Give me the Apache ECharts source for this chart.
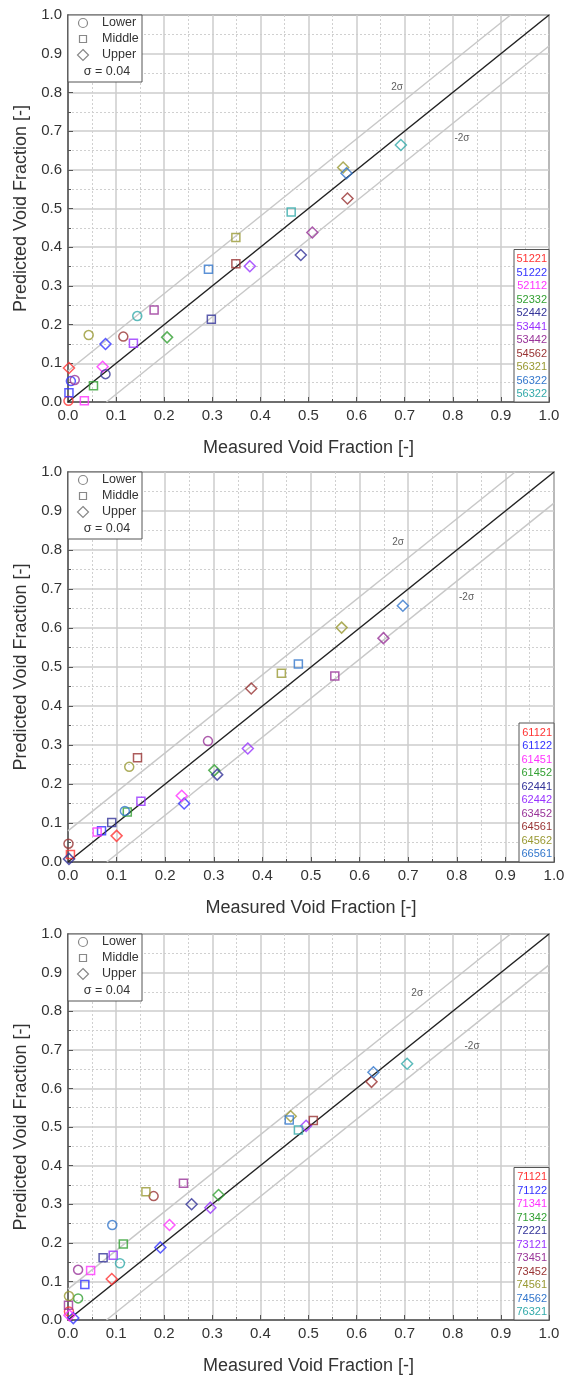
<!DOCTYPE html>
<html>
<head>
<meta charset="utf-8">
<script src="https://cdn.jsdelivr.net/npm/echarts@6/dist/echarts.min.js"></script>
<style>
html,body{margin:0;padding:0;background:#fff;}
#chart{width:569px;height:1382px;}
</style>
</head>
<body>
<div id="chart"></div>
<script>
// ---------- data ----------
const SERIES_COLORS = ['#ff3333','#3333ff','#ff33ff','#33a033','#333399','#9933ff','#993399','#993333','#999933','#3377cc','#33aaaa'];
const LEVELS = ['Lower','Middle','Upper'];
const SIGMA = 0.04;

const names1 = ['51221','51222','52112','52332','52442','53441','53442','54562','56321','56322','56322'];
const names2 = ['61121','61122','61451','61452','62441','62442','63452','64561','64562','66561'];
const names3 = ['71121','71122','71341','71342','72221','73121','73451','73452','74561','74562','76321'];

// [series index, level (0 Lower,1 Middle,2 Upper), measured, predicted]
const points1 = [
  [0,2,0.002,0.088],[0,0,0.001,0.003],[1,1,0.002,0.024],[1,0,0.006,0.054],[6,0,0.014,0.057],
  [2,1,0.034,0.003],[3,1,0.053,0.042],[4,0,0.078,0.072],[2,2,0.072,0.091],[1,2,0.078,0.150],
  [8,0,0.043,0.173],[7,0,0.115,0.169],[5,1,0.136,0.152],[10,0,0.144,0.222],[6,1,0.179,0.238],
  [3,2,0.206,0.167],[9,1,0.292,0.343],[4,1,0.298,0.214],[8,1,0.349,0.425],[7,1,0.349,0.357],
  [5,2,0.378,0.351],[10,1,0.464,0.491],[4,2,0.484,0.380],[6,2,0.508,0.438],[8,2,0.572,0.606],
  [9,2,0.579,0.591],[7,2,0.581,0.526],[10,2,0.692,0.664]
];
const points2 = [
  [7,0,0.001,0.047],[0,1,0.005,0.019],[4,2,0.002,0.008],[2,1,0.060,0.077],[1,1,0.069,0.080],
  [4,1,0.090,0.101],[0,2,0.100,0.067],[9,0,0.117,0.131],[3,1,0.122,0.128],[8,0,0.126,0.244],
  [7,1,0.143,0.267],[5,1,0.150,0.156],[2,2,0.234,0.170],[1,2,0.239,0.150],[6,0,0.288,0.310],
  [3,2,0.301,0.235],[4,2,0.307,0.224],[5,2,0.370,0.291],[7,2,0.377,0.445],[8,1,0.439,0.484],
  [9,1,0.474,0.508],[6,1,0.549,0.477],[8,2,0.563,0.601],[6,2,0.649,0.574],[9,2,0.689,0.657]
];
const points3 = [
  [8,0,0.002,0.062],[3,0,0.021,0.056],[6,1,0.001,0.038],[0,0,0.002,0.022],[2,2,0.003,0.012],
  [1,2,0.011,0.005],[1,1,0.035,0.092],[6,0,0.021,0.130],[2,1,0.047,0.128],[4,1,0.073,0.161],
  [5,1,0.094,0.168],[9,0,0.092,0.246],[0,2,0.091,0.106],[10,0,0.108,0.147],[3,1,0.115,0.197],
  [8,1,0.162,0.332],[7,0,0.178,0.321],[6,1,0.240,0.354],[1,2,0.192,0.188],[2,2,0.211,0.246],
  [4,2,0.257,0.300],[5,2,0.296,0.291],[3,2,0.313,0.324],[8,2,0.463,0.528],[9,1,0.460,0.518],
  [10,1,0.479,0.492],[5,2,0.495,0.503],[7,1,0.510,0.517],[9,2,0.635,0.642],[7,2,0.631,0.617],
  [10,2,0.705,0.664]
];
// sigma label positions [x, y, text]
const sigmaLabels1 = [[0.684,0.814,'2σ'],[0.819,0.682,'-2σ']];
const sigmaLabels2 = [[0.679,0.820,'2σ'],[0.820,0.680,'-2σ']];
const sigmaLabels3 = [[0.726,0.847,'2σ'],[0.840,0.710,'-2σ']];

// ---------- layout ----------
const FONT = '"Liberation Sans", Arial, sans-serif';
const panels = [
  {names:names1, points:points1, labels:sigmaLabels1, left:68, top:15,  width:481, height:387},
  {names:names2, points:points2, labels:sigmaLabels2, left:68, top:472, width:486, height:390},
  {names:names3, points:points3, labels:sigmaLabels3, left:68, top:934, width:481, height:386}
];
const SYMBOLS = ['circle','rect','diamond'];
const SYMBOL_SIZES = [9, 8, [11,11]];

const grids=[], xAxes=[], yAxes=[], series=[], graphics=[];

function axisCommon(){
  return {
    type:'value', min:0, max:1, interval:0.1,
    axisLine:{show:true, onZero:false, lineStyle:{color:'#555', width:1.5}},
    axisTick:{show:true, inside:true, length:5, lineStyle:{color:'#555', width:1}},
    minorTick:{show:true, splitNumber:2, length:3, lineStyle:{color:'#555', width:1}},
    splitLine:{show:true, lineStyle:{color:'#cccccc', width:1.5}},
    minorSplitLine:{show:true, lineStyle:{color:'#d0d0d0', width:1, type:[2,2]}},
    axisLabel:{fontSize:15, color:'#333', fontFamily:FONT, formatter:v=>v.toFixed(1)},
    nameLocation:'middle',
    nameTextStyle:{fontSize:18, color:'#333', fontFamily:FONT}
  };
}

panels.forEach((p,gi)=>{
  grids.push({left:p.left, top:p.top, width:p.width, height:p.height, show:true,
    borderColor:'#555', borderWidth:1.5, backgroundColor:'transparent', containLabel:false});
  const xa = axisCommon();
  Object.assign(xa,{gridIndex:gi, name:'Measured Void Fraction [-]', nameGap:37});
  xa.axisLabel.margin = 6;
  const ya = axisCommon();
  Object.assign(ya,{gridIndex:gi, name:'Predicted Void Fraction [-]', nameGap:38});
  ya.axisLabel.margin = 6;
  xAxes.push(xa); yAxes.push(ya);

  // reference lines
  const d = 2*SIGMA;
  series.push({type:'line', xAxisIndex:gi, yAxisIndex:gi, silent:true, showSymbol:false, z:2,
    data:[[0,d],[1-d,1]], lineStyle:{color:'#c8c8c8', width:1.5}});
  series.push({type:'line', xAxisIndex:gi, yAxisIndex:gi, silent:true, showSymbol:false, z:2,
    data:[[d,0],[1,1-d]], lineStyle:{color:'#c8c8c8', width:1.5}});
  series.push({type:'line', xAxisIndex:gi, yAxisIndex:gi, silent:true, showSymbol:false, z:3,
    data:[[0,0],[1,1]], lineStyle:{color:'#222', width:1.5}});

  // sigma labels
  series.push({type:'scatter', xAxisIndex:gi, yAxisIndex:gi, silent:true, symbolSize:0, z:4,
    data:p.labels.map(l=>({value:[l[0],l[1]], name:l[2]})),
    label:{show:true, position:'inside', formatter:'{b}', fontSize:10, color:'#333', fontFamily:FONT}});

  // data points
  p.names.forEach((nm,si)=>{
    const col = SERIES_COLORS[si];
    const pts = p.points.filter(q=>q[0]===si);
    series.push({type:'scatter', name:nm, xAxisIndex:gi, yAxisIndex:gi, z:5,
      data:pts.map(q=>({value:[q[2],q[3]], symbol:SYMBOLS[q[1]], symbolSize:SYMBOL_SIZES[q[1]]})),
      itemStyle:{color:'rgba(255,255,255,0)', borderColor:col, borderWidth:1.5}});
  });

  // top-left legend box
  const lx = p.left, ly = p.top;
  const Z = 100;
  const g = [];
  g.push({type:'rect', z:Z, shape:{x:lx, y:ly, width:74, height:67}, style:{fill:'#fff', stroke:'#555', lineWidth:1}});
  const offs = [8,24,40];
  const symX = lx+15;
  g.push({type:'circle', z:Z+1, shape:{cx:symX, cy:ly+offs[0], r:4.5}, style:{fill:'none', stroke:'#888', lineWidth:1.2}});
  g.push({type:'rect', z:Z+1, shape:{x:symX-3.5, y:ly+offs[1]-3.5, width:7, height:7}, style:{fill:'none', stroke:'#888', lineWidth:1.2}});
  g.push({type:'polygon', z:Z+1, shape:{points:[[symX,ly+offs[2]-5.5],[symX+5.5,ly+offs[2]],[symX,ly+offs[2]+5.5],[symX-5.5,ly+offs[2]]]}, style:{fill:'none', stroke:'#888', lineWidth:1.2}});
  LEVELS.forEach((lv,i)=>{
    g.push({type:'text', z:Z+1, style:{x:lx+34, y:ly+offs[i], text:lv, fontSize:12.5, fontFamily:FONT, fill:'#333', verticalAlign:'middle', textVerticalAlign:'middle'}});
  });
  g.push({type:'text', z:Z+1, style:{x:lx+39, y:ly+57, text:'σ = '+SIGMA.toFixed(2), fontSize:12.5, fontFamily:FONT, fill:'#333', align:'center', textAlign:'center', verticalAlign:'middle', textVerticalAlign:'middle'}});

  // right legend (colored case names)
  const n = p.names.length;
  const step = 13.5;
  const bh = n*step + 4;
  const rx = p.left + p.width;
  const by = p.top + p.height - bh;
  g.push({type:'rect', z:Z, shape:{x:rx-35, y:by, width:35, height:bh}, style:{fill:'#fff', stroke:'#555', lineWidth:1}});
  p.names.forEach((nm,i)=>{
    g.push({type:'text', z:Z+1, style:{x:rx-2, y:by+3+step*(i+0.5), text:nm, fontSize:11, fontFamily:FONT, fill:SERIES_COLORS[i], align:'right', textAlign:'right', verticalAlign:'middle', textVerticalAlign:'middle'}});
  });
  graphics.push({type:'group', z:Z, children:g});
});

const chart = echarts.init(document.getElementById('chart'), null, {renderer:'canvas'});
chart.setOption({
  backgroundColor:'#fff',
  animation:false,
  grid:grids, xAxis:xAxes, yAxis:yAxes, series:series,
  graphic:graphics
});
</script>
</body>
</html>
